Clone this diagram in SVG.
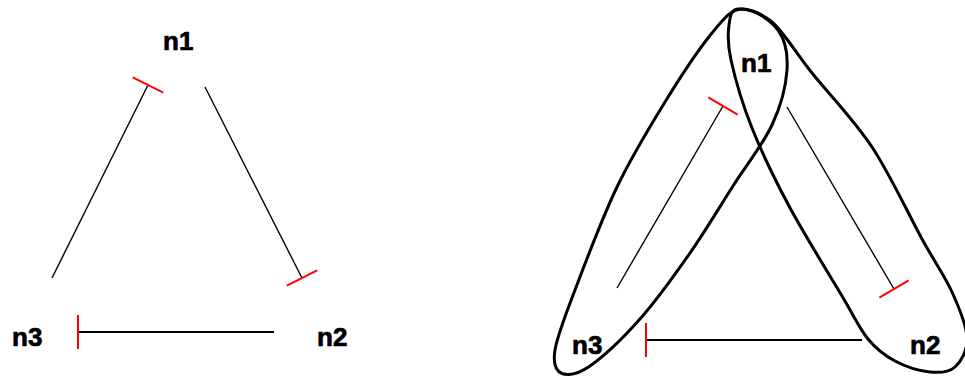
<svg xmlns="http://www.w3.org/2000/svg" width="965" height="376" viewBox="0 0 965 376">
<style>
.lbl{font-family:"Liberation Sans",Arial,sans-serif;font-weight:bold;font-size:26px;fill:#000;stroke:#000;stroke-width:0.7}
.edge{stroke:#000;stroke-width:1.4;fill:none;marker-end:url(#tee)}
.hedge{stroke:#000;stroke-width:2;fill:none;marker-end:url(#tee)}
.cluster{fill:none;stroke:#000;stroke-width:3;stroke-linejoin:round}
</style>
<defs>
<marker id="tee" markerUnits="userSpaceOnUse" viewBox="0 0 4 36" markerWidth="4" markerHeight="36" refX="2" refY="18" orient="auto">
<line x1="2" y1="1" x2="2" y2="35" stroke="#f00" stroke-width="2"/>
</marker>
</defs>
<rect width="965" height="376" fill="#fff"/>

<!-- Left diagram -->
<g id="left-n1"><text class="lbl" x="163" y="50">n1</text></g>
<g id="left-n2"><text class="lbl" x="317" y="346">n2</text></g>
<g id="left-n3"><text class="lbl" x="12" y="346">n3</text></g>
<g id="left-edges">
<line class="edge" x1="52" y1="278" x2="148" y2="85"/>
<line class="edge" x1="205" y1="87" x2="302" y2="278"/>
<line class="hedge" x1="274" y1="332" x2="78" y2="332"/>
</g>

<!-- Right diagram -->
<g id="right-cluster-n1-n3">
<path class="cluster" d="M742,9 C753,8.5 770.5,19.8 778,30 C785.5,40.2 788,54.2 787,70 C786,85.8 781,105.7 772,125 C763,144.3 746.7,164.7 733,186 C719.3,207.3 705.5,230.8 690,253 C674.5,275.2 656.7,300.2 640,319 C623.3,337.8 603,356.8 590,366 C577,375 567.8,375.5 562,373.5 C556.2,371.3 552.8,364 555,350 C557.2,336 564.7,317.2 575,290 C585.3,262.8 602,218.3 617,187 C632,155.7 649.2,127.7 665,102 C680.8,76.3 699.2,48.5 712,33 C724.8,17.5 731,9.5 742,9 Z"/>
</g>
<g id="right-cluster-n1-n2">
<path class="cluster" d="M738,9 C745.2,8.5 759.7,11.3 772,22 C784.3,32.7 795.3,52.2 812,73 C828.7,93.8 853.7,119.3 872,147 C890.3,174.7 908.7,214.8 922,239 C935.3,263.2 944.5,275.5 952,292 C959.5,308.5 966.5,325.5 967,338 C967.5,350.5 961.2,361.3 955,367 C948.8,372.7 940,373 930,372 C920,371 905.3,366.5 895,361 C884.7,355.5 876.8,349.8 868,339 C859.2,328.2 855.2,318.2 842,296 C828.8,273.8 804,234 789,206 C774,178 761.7,152.3 752,128 C742.3,103.7 734.8,77.2 731,60 C727.2,42.8 727.8,33.5 729,25 C730.2,16.5 730.8,9.5 738,9 Z"/>
</g>
<g id="right-n1"><text class="lbl" x="741" y="72">n1</text></g>
<g id="right-n2"><text class="lbl" x="910" y="354">n2</text></g>
<g id="right-n3"><text class="lbl" x="572" y="354">n3</text></g>
<g id="right-edges">
<line class="edge" x1="617" y1="288" x2="723" y2="106"/>
<line class="edge" x1="787" y1="107" x2="894" y2="289"/>
<line class="hedge" x1="862" y1="340" x2="646" y2="340"/>
</g>
</svg>
